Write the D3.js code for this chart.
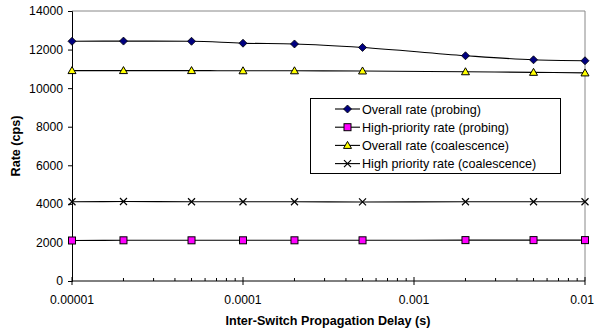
<!DOCTYPE html>
<html>
<head>
<meta charset="utf-8">
<script src="https://cdn.jsdelivr.net/npm/d3@7"></script>
<style>
  body { margin: 0; background: #fff; }
  text { font-family: Arial, "Liberation Sans", sans-serif; }
</style>
</head>
<body>
<div id="chart"></div>
<script>
// delays (s) and measured rates (cps)
const delays = [0.00001, 0.00002, 0.00005, 0.0001, 0.0002, 0.0005, 0.002, 0.005, 0.01];
const overallProbing = [12430, 12440, 12430, 12330, 12290, 12110, 11680, 11470, 11420];
const highProbing = [2100, 2110, 2110, 2110, 2110, 2110, 2120, 2120, 2120];
const overallCoal = [10910, 10910, 10910, 10900, 10900, 10890, 10850, 10820, 10790];
const highCoal = [4110, 4120, 4110, 4110, 4110, 4100, 4110, 4110, 4110];
const seriesNames = [
  "Overall rate (probing)",
  "High-priority rate (probing)",
  "Overall rate (coalescence)",
  "High priority rate (coalescence)"
];
const yTicks = [0, 2000, 4000, 6000, 8000, 10000, 12000, 14000];
const xTicks = [0.00001, 0.0001, 0.001, 0.01];
const xTickLabels = ["0.00001", "0.0001", "0.001", "0.01"];

function drawChart() {
  const width = 595, height = 333;

  const svg = d3.select("#chart").append("svg")
    .attr("width", width).attr("height", height);

  const x = d3.scaleLog().domain([0.00001, 0.01]).range([72, 585]);
  const y = d3.scaleLinear().domain([0, 14000]).range([281, 11]);

  // grey frame top + right
  svg.append("line").attr("x1", x(0.00001)).attr("x2", x(0.01))
    .attr("y1", y(14000)).attr("y2", y(14000)).attr("stroke", "#888");
  svg.append("line").attr("x1", x(0.01)).attr("x2", x(0.01))
    .attr("y1", y(14000)).attr("y2", y(0)).attr("stroke", "#888");

  // y axis
  const yAxis = svg.append("g").attr("transform", `translate(${x(0.00001)},0)`)
    .call(d3.axisLeft(y).tickValues(yTicks).tickSize(4).tickPadding(5).tickFormat(d3.format("d")));
  yAxis.select(".domain").attr("stroke", "#000");
  yAxis.selectAll("text").attr("font-size", 12.2).attr("font-family", "Arial, 'Liberation Sans', sans-serif");

  // x axis: major ticks crossing, minor ticks above
  const xg = svg.append("g").attr("transform", `translate(0,${y(0)})`);
  xg.append("line").attr("x1", x(0.00001)).attr("x2", x(0.01)).attr("stroke", "#000");
  const minor = [];
  for (let e = -5; e < -2; e++) for (let m = 2; m <= 9; m++) minor.push(m * Math.pow(10, e));
  xg.selectAll("line.minor").data(minor).join("line").attr("class", "minor")
    .attr("x1", d => x(d)).attr("x2", d => x(d)).attr("y1", -3).attr("y2", 0).attr("stroke", "#000");
  xg.selectAll("line.major").data(xTicks).join("line").attr("class", "major")
    .attr("x1", d => x(d)).attr("x2", d => x(d)).attr("y1", -4).attr("y2", 4).attr("stroke", "#000");
  // last label sits against the right edge, keep it inside
  xg.selectAll("text").data(xTicks).join("text")
    .attr("x", (d, i) => i === xTicks.length - 1 ? width - 1 : x(d))
    .attr("y", 23)
    .attr("text-anchor", (d, i) => i === xTicks.length - 1 ? "end" : "middle")
    .attr("font-size", 12.2).text((d, i) => xTickLabels[i]);

  // axis titles
  svg.append("text").attr("x", 328).attr("y", 325).attr("text-anchor", "middle")
    .attr("font-size", 12.6).attr("font-weight", "bold").text("Inter-Switch Propagation Delay (s)");
  svg.append("text").attr("transform", `translate(20,146) rotate(-90)`).attr("text-anchor", "middle")
    .attr("font-size", 12.6).attr("font-weight", "bold").text("Rate (cps)");

  const line = d3.line().x(d => x(d[0])).y(d => y(d[1])).curve(d3.curveMonotoneX);
  const allSeries = [overallProbing, highProbing, overallCoal, highCoal];
  const plot = svg.append("g");
  allSeries.forEach((vals, k) => {
    const pts = delays.map((d, i) => [d, vals[i]]);
    plot.append("path").datum(pts).attr("d", line)
      .attr("fill", "none").attr("stroke", "#000").attr("stroke-width", 1.1);
    pts.forEach(p => drawMarker(plot, k, x(p[0]), y(p[1])));
  });

  // legend
  const lg = svg.append("g");
  lg.append("rect").attr("x", 310.5).attr("y", 98.5).attr("width", 250).attr("height", 75)
    .attr("fill", "#fff").attr("stroke", "#000");
  seriesNames.forEach((name, k) => {
    const ly = 109 + k * 18.2;
    lg.append("line").attr("x1", 335).attr("x2", 360).attr("y1", ly).attr("y2", ly)
      .attr("stroke", "#000").attr("stroke-width", 1.1);
    drawMarker(lg, k, 347.5, ly);
    lg.append("text").attr("x", 362).attr("y", ly + 4.5).attr("font-size", 12.6).text(name);
  });
}

function drawMarker(g, k, cx, cy) {
  if (k === 0) {
    g.append("path").attr("d", `M${cx},${cy - 4}L${cx + 4},${cy}L${cx},${cy + 4}L${cx - 4},${cy}Z`)
      .attr("fill", "#000080").attr("stroke", "#000").attr("stroke-width", 0.8);
  } else if (k === 1) {
    g.append("rect").attr("x", cx - 3.5).attr("y", cy - 3.5).attr("width", 7).attr("height", 7)
      .attr("fill", "#ff00ff").attr("stroke", "#000").attr("stroke-width", 1);
  } else if (k === 2) {
    g.append("path").attr("d", `M${cx},${cy - 4}L${cx + 4},${cy + 3}L${cx - 4},${cy + 3}Z`)
      .attr("fill", "#ffff00").attr("stroke", "#000").attr("stroke-width", 1);
  } else {
    g.append("path").attr("d", `M${cx - 3.5},${cy - 3.5}L${cx + 3.5},${cy + 3.5}M${cx - 3.5},${cy + 3.5}L${cx + 3.5},${cy - 3.5}`)
      .attr("stroke", "#000").attr("stroke-width", 1.2);
  }
}

window.onload = function () {
  drawChart();
};
</script>
</body>
</html>
